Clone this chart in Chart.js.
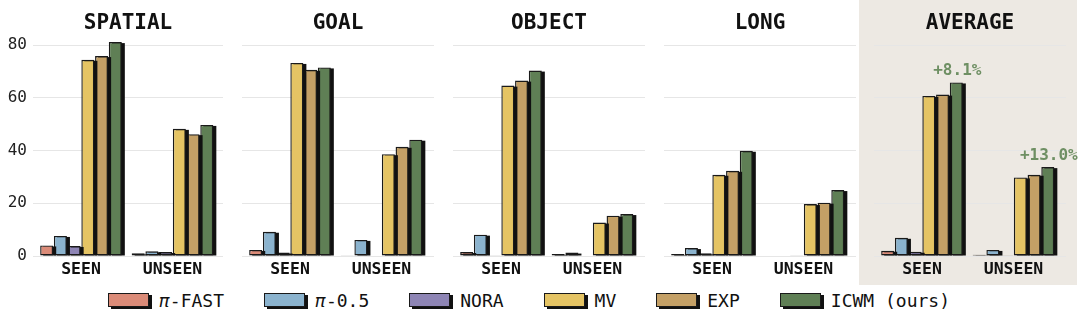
<!DOCTYPE html>
<html><head><meta charset="utf-8">
<script src="https://cdn.jsdelivr.net/npm/chart.js@4/dist/chart.umd.min.js"></script>
<style>
html,body{margin:0;padding:0;background:#fff;width:1080px;height:322px;overflow:hidden;}
#wrap{position:relative;width:1080px;height:322px;}
#avgbg{position:absolute;left:859px;top:0;width:218px;height:285px;background:#EDE9E3;}
canvas{position:absolute;top:0;}
#legend{position:absolute;left:108px;top:289px;height:22px;display:flex;align-items:center;font-family:'DejaVu Sans Mono',monospace;font-size:18px;color:#111;}
.item{display:flex;align-items:center;margin-right:40px;}
.sw{width:41px;height:14px;border:1.4px solid #1a1a1a;box-shadow:3px 2px 0 #111;margin-right:10px;box-sizing:border-box;}
.pi{font-style:italic;}
</style></head>
<body><div id="wrap"><div id="avgbg"></div><div id="legend"></div></div>
<script>
// ---- data ----
const panelTitles = ['SPATIAL','GOAL','OBJECT','LONG','AVERAGE'];
const categories = ['SEEN','UNSEEN'];
const seriesNames = ['π-FAST','π-0.5','NORA','MV','EXP','ICWM (ours)'];
// each array: per panel [SEEN, UNSEEN]
const piFast = [[4.0,1.0],[2.3,0.3],[1.5,0.8],[0.8,0.2],[2.0,0.5]];
const pi05   = [[7.6,1.8],[9.2,6.1],[8.1,1.3],[3.0,0.2],[6.9,2.3]];
const nora   = [[3.8,1.5],[1.3,0.0],[0.3,0.0],[1.0,0.1],[1.6,0.3]];
const mv     = [[74.4,48.2],[73.2,38.6],[64.6,12.7],[30.8,19.7],[60.7,29.8]];
const expv   = [[75.8,46.2],[70.6,41.4],[66.5,15.3],[32.3,20.2],[61.2,30.8]];
const icwm   = [[81.1,49.7],[71.5,44.1],[70.3,15.9],[39.9,25.0],[65.8,33.7]];
const yTicks = [0,20,40,60,80];
const avgGains = ['+8.1%','+13.0%'];

// ---- styles ----
const colors = ['#DB8B78','#8BB3CE','#8E85B5','#E5C464','#C4A066','#5F7F55'];
const seriesData = [piFast, pi05, nora, mv, expv, icwm];
const plotL = [33,242,453,664,874];
const plotR = [223,434,645,856,1066];
const FONT = "'DejaVu Sans Mono', monospace";

const shadowPlugin = {
  id:'barShadow',
  beforeDatasetDraw(chart, args){
    const c = chart.ctx;
    c.save();
    c.fillStyle = '#111';
    args.meta.data.forEach(bar => {
      const {x, y, base, width} = bar.getProps(['x','y','base','width'], true);
      if (base - y < 0.5) return;
      c.fillRect(x - width/2 + 3, y + 1, width, base - y - 1);
    });
    c.restore();
  }
};
const titlePlugin = {
  id:'panelTitle',
  afterDraw(chart, args, opts){
    const {ctx, chartArea:a} = chart;
    ctx.save();
    ctx.font = 'bold 21px ' + FONT;
    ctx.fillStyle = '#111'; ctx.textAlign='center'; ctx.textBaseline='alphabetic';
    ctx.fillText(opts.text, (a.left+a.right)/2, 29.3);
    if (opts.gains) {
      const meta = chart.getDatasetMeta(chart.data.datasets.length-1);
      ctx.font = 'bold 16px ' + FONT;
      ctx.fillStyle = '#6E8F63';
      meta.data.forEach((bar,i)=>{ ctx.fillText(opts.gains[i], bar.x + 1, bar.y - 7); });
    }
    ctx.restore();
  }
};

panelTitles.forEach((title, p) => {
  const first = p === 0;
  const padL = first ? 0 : 6;
  const yW = first ? 33 : 0;
  const padR = p === 4 ? (1080 - plotR[p]) : 6;
  const left = plotL[p] - yW - padL;
  const width = yW + padL + (plotR[p]-plotL[p]) + padR;
  const cv = document.createElement('canvas');
  cv.width = width; cv.height = 285;
  cv.style.left = left + 'px';
  cv.style.width = width + 'px'; cv.style.height = '285px';
  document.getElementById('wrap').appendChild(cv);
  const W = plotR[p]-plotL[p];
  new Chart(cv, {
    type:'bar',
    data:{
      datasets: seriesNames.map((n,s)=>({
        label:n,
        data: categories.map((c,i)=>({x:i, y:seriesData[s][p][i]})),
        backgroundColor: colors[s],
        borderColor:'#1a1a1a', borderWidth:1.4, borderSkipped:false,
        categoryPercentage:0.9, barPercentage:0.95
      }))
    },
    options:{
      responsive:false, animation:false, devicePixelRatio:1,
      layout:{padding:{top:256-84*(211/80), bottom:0, left:padL, right:padR}},
      plugins:{legend:{display:false}, tooltip:{enabled:false},
        panelTitle:{text:title, gains: p===4 ? avgGains : null}},
      scales:{
        x:{type:'linear', min:-48/91.5, max:(W-48)/91.5, offset:false,
          grid:{display:false}, border:{display:false},
          afterBuildTicks(s){ s.ticks = categories.map((c,i)=>({value:i})); },
          afterFit(s){ s.height = 29; },
          ticks:{padding:-4, color:'#111', font:{family:FONT, size:16.5, weight:'bold'},
            callback:(v)=>categories[v] ?? '' , maxRotation:0, autoSkip:false}},
        y:{min:0, max:84, display:true,
          grid:{color:'#E6E6E6', lineWidth:1, drawTicks:false},
          border:{display:false},
          afterBuildTicks(s){ s.ticks = yTicks.map(v=>({value:v})); },
          afterFit(s){ s.width = yW; },
          ticks:{display:first, padding:6, color:'#222', font:{family:FONT, size:16}}}
      }
    },
    plugins:[shadowPlugin, titlePlugin]
  });
});

// legend
const lg = document.getElementById('legend');
seriesNames.forEach((n,s)=>{
  const it = document.createElement('div'); it.className='item';
  const sw = document.createElement('div'); sw.className='sw'; sw.style.background=colors[s];
  const tx = document.createElement('span');
  if (n.startsWith('π')) { tx.innerHTML = '<span class="pi">π</span>' + n.slice(1); } else tx.textContent = n;
  it.appendChild(sw); it.appendChild(tx); lg.appendChild(it);
});
</script></body></html>
